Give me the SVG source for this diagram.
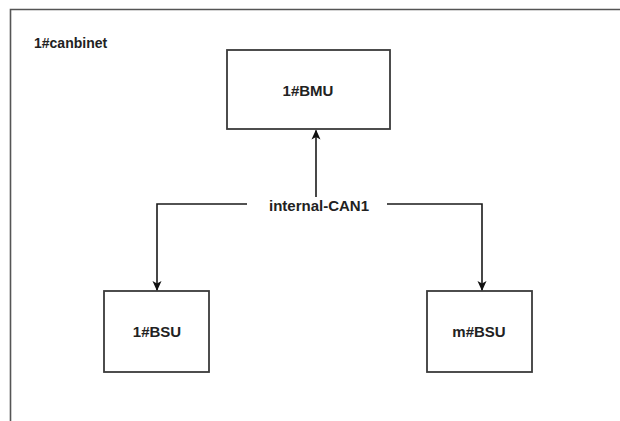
<svg xmlns="http://www.w3.org/2000/svg" width="620" height="421" viewBox="0 0 620 421">
<style>
.box{fill:#fff;stroke:#3a3a3a;stroke-width:1.8}
.t{font-family:"Liberation Sans",Arial,sans-serif;font-weight:bold;font-size:15px;fill:#222;text-anchor:middle;dominant-baseline:central}
.ln{fill:none;stroke:#1a1a1a;stroke-width:1.6}
</style>
<defs>
<marker id="ah" viewBox="0 0 10 10" refX="9" refY="5" markerWidth="10" markerHeight="10" markerUnits="userSpaceOnUse" orient="auto">
<path d="M0,0.5 L10,5 L0,9.5 L2.5,5 z" fill="#111"/>
</marker>
</defs>
<rect width="620" height="421" fill="#fff"/>
<g id="cabinet">
<path d="M10.5,421 V9.5 H620" fill="none" stroke="#555" stroke-width="1.6"/>
<text x="34" y="43" class="t" style="text-anchor:start;font-size:14px">1#canbinet</text>
</g>
<g id="bmu">
<rect class="box" x="227" y="50" width="163" height="79"/>
<text class="t" x="308" y="90">1#BMU</text>
</g>
<g id="bsu1">
<rect class="box" x="104" y="291" width="105" height="81"/>
<text class="t" x="157" y="331">1#BSU</text>
</g>
<g id="bsum">
<rect class="box" x="427" y="291" width="105" height="81"/>
<text class="t" x="479" y="331">m#BSU</text>
</g>
<g id="can">
<text class="t" x="319" y="205">internal-CAN1</text>
</g>
<g id="connectors">
<path class="ln" d="M316,197 V130.5" marker-end="url(#ah)"/>
<path class="ln" d="M247,204 H157 V290" marker-end="url(#ah)"/>
<path class="ln" d="M387,204 H482 V290" marker-end="url(#ah)"/>
</g>
</svg>
